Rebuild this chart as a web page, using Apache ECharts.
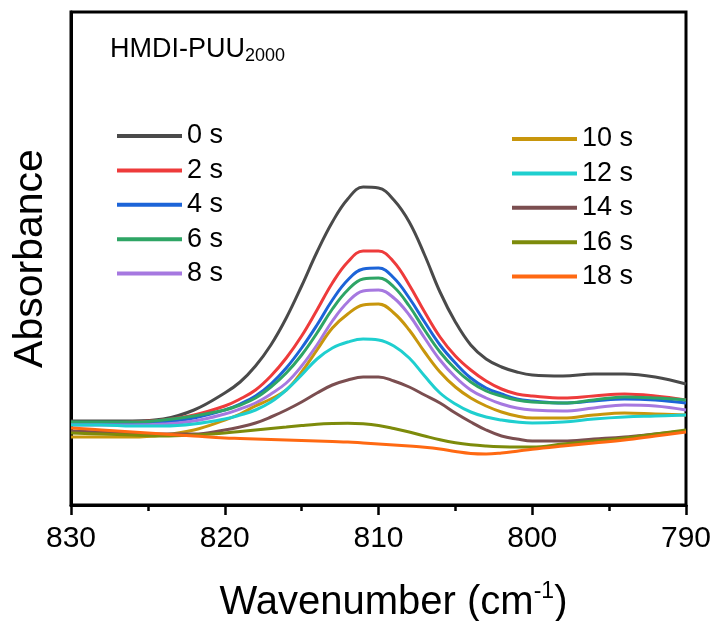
<!DOCTYPE html>
<html>
<head>
    <meta charset="UTF-8">
    <title>HMDI-PUU2000 absorbance</title>
    <script src="https://cdn.jsdelivr.net/npm/echarts@6/dist/echarts.min.js"></script>
    <style>
        html, body { margin: 0; padding: 0; background: #fff; }
        #chart { width: 718px; height: 621px; }
    </style>
</head>
<body>
<div id="chart"></div>
<script>
    // wavenumber (cm-1)
    let wavenumbers = [830, 828, 826, 824, 822,
        820, 819, 818, 817, 816, 815, 814, 813, 812, 811, 810, 809, 808, 807, 806, 805, 804, 803, 802, 801, 800,
        798, 796, 794, 792, 790]
    let xTicks = [830, 820, 810, 800, 790]

    let names = ['0 s', '2 s', '4 s', '6 s', '8 s', '10 s', '12 s', '14 s', '16 s', '18 s']
    let colors = ['#4a4a4a', '#ee3b3b', '#1c64d8', '#2ea565', '#a678e0', '#c8960c', '#1fcfcf', '#7b4e50', '#7d8b0b', '#ff6912']

    // absorbance (a.u.)
    let abs0 = [0.84, 0.84, 0.84, 0.86, 0.95,
        1.12, 1.23, 1.39, 1.60, 1.87, 2.19, 2.53, 2.83, 3.06, 3.18, 3.17, 3.05, 2.83, 2.50, 2.13, 1.83, 1.60, 1.46, 1.38, 1.33, 1.30,
        1.29, 1.31, 1.31, 1.28, 1.21]
    let abs2 = [0.82, 0.82, 0.83, 0.85, 0.90,
        0.99, 1.06, 1.15, 1.29, 1.47, 1.69, 1.95, 2.22, 2.43, 2.54, 2.54, 2.43, 2.20, 1.93, 1.68, 1.49, 1.35, 1.24, 1.16, 1.11, 1.09,
        1.07, 1.09, 1.11, 1.09, 1.05]
    let abs4 = [0.81, 0.81, 0.82, 0.83, 0.87,
        0.95, 1.01, 1.09, 1.21, 1.37, 1.57, 1.80, 2.05, 2.25, 2.36, 2.37, 2.27, 2.07, 1.83, 1.60, 1.42, 1.27, 1.17, 1.11, 1.06, 1.04,
        1.02, 1.04, 1.06, 1.05, 1.02]
    let abs6 = [0.83, 0.83, 0.83, 0.85, 0.89,
        0.95, 1.00, 1.07, 1.18, 1.32, 1.50, 1.72, 1.96, 2.15, 2.26, 2.27, 2.18, 1.99, 1.75, 1.53, 1.36, 1.23, 1.14, 1.09, 1.05, 1.03,
        1.02, 1.05, 1.08, 1.07, 1.05]
    let abs8 = [0.80, 0.80, 0.80, 0.81, 0.84,
        0.91, 0.96, 1.02, 1.11, 1.22, 1.39, 1.60, 1.84, 2.03, 2.14, 2.15, 2.07, 1.90, 1.67, 1.45, 1.28, 1.15, 1.07, 1.01, 0.97, 0.95,
        0.94, 0.97, 1.00, 0.99, 0.95]
    let abs10 = [0.68, 0.68, 0.68, 0.70, 0.75,
        0.85, 0.91, 0.99, 1.06, 1.15, 1.33, 1.55, 1.77, 1.91, 2.00, 2.01, 1.92, 1.75, 1.53, 1.33, 1.18, 1.07, 0.99, 0.93, 0.89, 0.87,
        0.87, 0.90, 0.92, 0.91, 0.90]
    let abs12 = [0.80, 0.80, 0.79, 0.79, 0.81,
        0.86, 0.90, 0.95, 1.03, 1.15, 1.30, 1.46, 1.57, 1.63, 1.66, 1.65, 1.59, 1.47, 1.29, 1.12, 1.01, 0.93, 0.88, 0.85, 0.83, 0.82,
        0.83, 0.86, 0.88, 0.89, 0.90]
    let abs14 = [0.74, 0.73, 0.72, 0.71, 0.71,
        0.75, 0.78, 0.82, 0.88, 0.95, 1.03, 1.12, 1.20, 1.25, 1.28, 1.28, 1.24, 1.18, 1.10, 1.02, 0.92, 0.83, 0.75, 0.69, 0.66, 0.64,
        0.64, 0.66, 0.68, 0.71, 0.74]
    let abs16 = [0.72, 0.71, 0.70, 0.69, 0.70,
        0.720, 0.735, 0.750, 0.765, 0.780, 0.795, 0.808, 0.815, 0.818, 0.812, 0.795, 0.765, 0.730, 0.690, 0.652, 0.622, 0.602, 0.590, 0.583, 0.580, 0.580,
        0.61, 0.64, 0.67, 0.71, 0.75]
    let abs18 = [0.77, 0.75, 0.73, 0.71, 0.69,
        0.670, 0.665, 0.660, 0.655, 0.650, 0.645, 0.640, 0.635, 0.630, 0.620, 0.610, 0.600, 0.590, 0.578, 0.560, 0.535, 0.515, 0.510, 0.520, 0.538, 0.558,
        0.59, 0.62, 0.65, 0.69, 0.73]

    let allAbs = [abs0, abs2, abs4, abs6, abs8, abs10, abs12, abs14, abs16, abs18]

    let font = 'Liberation Sans, Arial, sans-serif'

    let series = names.map(function (name, i) {
        return {
            name: name,
            type: 'line',
            smooth: 0.4,
            symbol: 'none',
            color: colors[i],
            lineStyle: { width: 3, color: colors[i] },
            data: wavenumbers.map(function (w, j) { return [w, allAbs[i][j]] })
        }
    })

    function legendAt(list, left, top) {
        return {
            data: list,
            orient: 'vertical',
            left: left,
            top: top,
            icon: 'rect',
            itemWidth: 65,
            itemHeight: 4,
            itemGap: 6.4,
            textStyle: { fontSize: 27, lineHeight: 28, color: '#000', fontFamily: font }
        }
    }

    let chart = echarts.init(document.getElementById('chart'), null, { renderer: 'canvas' })
    chart.setOption({
        animation: false,
        backgroundColor: '#fff',
        title: {
            text: '{a|HMDI-PUU}{b|2000}',
            left: 105,
            top: 30,
            textStyle: {
                rich: {
                    a: { fontSize: 27, fontWeight: 'normal', lineHeight: 30, color: '#000', fontFamily: font },
                    b: { fontSize: 18, fontWeight: 'normal', lineHeight: 14, verticalAlign: 'bottom', color: '#000', fontFamily: font }
                }
            }
        },
        legend: [legendAt(names.slice(0, 5), 112, 117), legendAt(names.slice(5), 507, 120)],
        grid: {
            left: 71, right: 32, top: 12, bottom: 116,
            outerBoundsMode: 'none',
            show: true, borderColor: '#000', borderWidth: 3
        },
        xAxis: {
            type: 'value',
            min: 790, max: 830, interval: 10,
            inverse: true,
            name: '{t|Wavenumber (cm}{s|-1}{t|)}',
            nameLocation: 'middle',
            nameGap: 75,
            nameTextStyle: {
                padding: [0, 0, 0, 30],
                rich: {
                    t: { fontSize: 40, lineHeight: 46, color: '#000', fontFamily: font },
                    s: { fontSize: 23, lineHeight: 23, verticalAlign: 'top', color: '#000', fontFamily: font }
                }
            },
            axisLine: { lineStyle: { color: '#000', width: 3 } },
            axisTick: { length: 10, lineStyle: { color: '#000', width: 2.5 } },
            minorTick: { show: true, splitNumber: 2, length: 6, lineStyle: { color: '#000', width: 2.5 } },
            axisLabel: {
                fontSize: 30, color: '#000', fontFamily: font, margin: 19,
                formatter: function (v) { return xTicks.indexOf(v) >= 0 ? String(v) : '' }
            },
            splitLine: { show: false }
        },
        yAxis: {
            type: 'value',
            min: 0, max: 4.93,
            name: 'Absorbance',
            nameLocation: 'middle',
            nameGap: 20,
            nameTextStyle: { fontSize: 41, color: '#000', fontFamily: font },
            axisLine: { show: true, lineStyle: { color: '#000', width: 3 } },
            axisTick: { show: false },
            axisLabel: { show: false },
            splitLine: { show: false }
        },
        series: series
    })
</script>
</body>
</html>
